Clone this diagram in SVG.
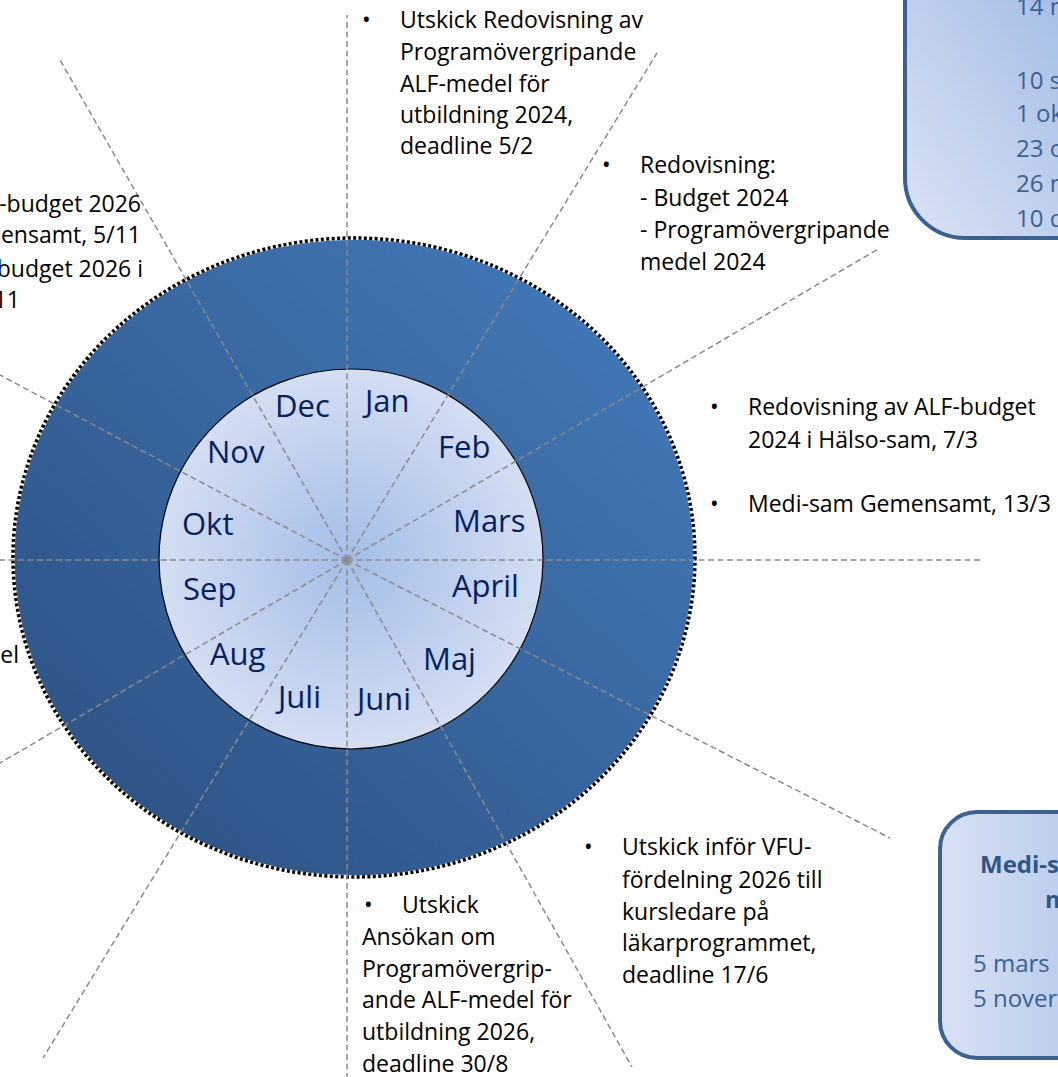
<svg xmlns="http://www.w3.org/2000/svg" width="1058" height="1077" viewBox="0 0 1058 1077">
  <defs>
    <linearGradient id="ringGrad" x1="1" y1="0" x2="0" y2="1">
      <stop offset="0" stop-color="#467cbd"/>
      <stop offset="1" stop-color="#2a4f7f"/>
    </linearGradient>
    <radialGradient id="innerGrad" cx="0.5" cy="0.5" r="0.5">
      <stop offset="0" stop-color="#a5bde8"/>
      <stop offset="1" stop-color="#d3def2"/>
    </radialGradient>
    <linearGradient id="boxGrad1" x1="0" y1="1" x2="1" y2="0">
      <stop offset="0" stop-color="#dae3f3"/>
      <stop offset="0.7" stop-color="#a9bfe7"/>
      <stop offset="1" stop-color="#a3bbe6"/>
    </linearGradient>
    <linearGradient id="boxGrad2" x1="0" y1="0.5" x2="1" y2="0.5">
      <stop offset="0" stop-color="#d8e2f3"/>
      <stop offset="1" stop-color="#afc3e9"/>
    </linearGradient>
    <style>
      .t { font-family: "Open Sans", "Liberation Sans", sans-serif; font-size: 23px; fill: #000000; }
      .m { font-family: "Open Sans", "Liberation Sans", sans-serif; font-size: 31px; fill: #062060; }
      .bx { font-family: "Open Sans", "Liberation Sans", sans-serif; font-size: 24px; fill: #3a6192; }
      .bxb { font-family: "Open Sans", "Liberation Sans", sans-serif; font-size: 24px; font-weight: bold; fill: #2f5686; }
      .spoke { stroke: #8a8a8a; stroke-width: 1.5; stroke-dasharray: 6 3.5; fill: none; }
      .box { stroke: #3b6191; stroke-width: 4; }
    </style>
  </defs>

  <rect width="1058" height="1077" fill="#ffffff"/>

  <g id="wheel">
    <ellipse cx="354" cy="557.5" rx="341" ry="319.5" fill="url(#ringGrad)" stroke="#ffffff" stroke-width="3.5"/>
    <ellipse cx="354" cy="557.5" rx="341" ry="319.5" fill="none" stroke="#000000" stroke-width="3.5" stroke-dasharray="3 2.4"/>
    <ellipse cx="351" cy="559" rx="192" ry="190" fill="url(#innerGrad)" stroke="#000000" stroke-width="1.2"/>
  </g>

  <g id="connectors">
    <line class="spoke" x1="347" y1="560" x2="347" y2="15"/>
    <line class="spoke" x1="347" y1="560" x2="347" y2="1077"/>
    <line class="spoke" x1="347" y1="560" x2="657" y2="53"/>
    <line class="spoke" x1="347" y1="560" x2="43" y2="1058"/>
    <line class="spoke" x1="347" y1="560" x2="880" y2="248"/>
    <line class="spoke" x1="347" y1="560" x2="0" y2="763"/>
    <line class="spoke" x1="347" y1="560" x2="982" y2="560"/>
    <line class="spoke" x1="347" y1="560" x2="0" y2="560"/>
    <line class="spoke" x1="347" y1="560" x2="0" y2="375"/>
    <line class="spoke" x1="347" y1="560" x2="890" y2="838"/>
    <line class="spoke" x1="347" y1="560" x2="60" y2="60"/>
    <line class="spoke" x1="347" y1="560" x2="632" y2="1067"/>
  </g>

  <g id="months">
    <text class="m" x="365" y="412">Jan</text>
    <text class="m" x="438" y="458">Feb</text>
    <text class="m" x="453" y="532">Mars</text>
    <text class="m" x="452" y="597">April</text>
    <text class="m" x="423" y="670">Maj</text>
    <text class="m" x="357" y="710">Juni</text>
    <text class="m" x="278" y="708">Juli</text>
    <text class="m" x="210" y="665">Aug</text>
    <text class="m" x="183" y="600">Sep</text>
    <text class="m" x="182" y="535">Okt</text>
    <text class="m" x="207" y="463">Nov</text>
    <text class="m" x="275" y="417">Dec</text>
  </g>

  <g id="note-jan">
    <text class="t" x="362" y="28">•</text>
    <text class="t" x="400" y="28">Utskick Redovisning av</text>
    <text class="t" x="400" y="60">Programövergripande</text>
    <text class="t" x="400" y="92">ALF-medel för</text>
    <text class="t" x="400" y="123">utbildning 2024,</text>
    <text class="t" x="400" y="154">deadline 5/2</text>
  </g>

  <g id="note-feb">
    <text class="t" x="602" y="173">•</text>
    <text class="t" x="640" y="173">Redovisning:</text>
    <text class="t" x="640" y="206">- Budget 2024</text>
    <text class="t" x="640" y="238">- Programövergripande</text>
    <text class="t" x="640" y="270">medel 2024</text>
  </g>

  <g id="note-mars">
    <text class="t" x="710" y="415">•</text>
    <text class="t" x="748" y="415">Redovisning av ALF-budget</text>
    <text class="t" x="748" y="448">2024 i Hälso-sam, 7/3</text>
    <text class="t" x="710" y="512">•</text>
    <text class="t" x="748" y="512">Medi-sam Gemensamt, 13/3</text>
  </g>

  <g id="note-juni">
    <text class="t" x="584" y="855">•</text>
    <text class="t" x="622" y="855">Utskick inför VFU-</text>
    <text class="t" x="622" y="888">fördelning 2026 till</text>
    <text class="t" x="622" y="920">kursledare på</text>
    <text class="t" x="622" y="951">läkarprogrammet,</text>
    <text class="t" x="622" y="983">deadline 17/6</text>
  </g>

  <g id="note-aug">
    <text class="t" x="364" y="913">•</text>
    <text class="t" x="402" y="913">Utskick</text>
    <text class="t" x="362" y="945">Ansökan om</text>
    <text class="t" x="362" y="977">Programövergrip-</text>
    <text class="t" x="362" y="1008">ande ALF-medel för</text>
    <text class="t" x="362" y="1040">utbildning 2026,</text>
    <text class="t" x="362" y="1072">deadline 30/8</text>
  </g>

  <g id="note-nov">
    <text class="t" x="141" y="212" text-anchor="end">-budget 2026</text>
    <text class="t" x="141" y="243" text-anchor="end">ensamt, 5/11</text>
    <text class="t" x="143" y="277" text-anchor="end">budget 2026 i</text>
    <text class="t" x="20" y="308" text-anchor="end">11</text>
  </g>

  <g id="note-sep">
    <text class="t" x="19" y="663" text-anchor="end">el</text>
  </g>

  <g id="box-dates">
    <rect class="box" x="905" y="-80" width="220" height="318" rx="60" fill="url(#boxGrad1)"/>
    <text class="bx" x="1016" y="15">14 m</text>
    <text class="bx" x="1016" y="89">10 s</text>
    <text class="bx" x="1016" y="122">1 ok</text>
    <text class="bx" x="1016" y="157">23 o</text>
    <text class="bx" x="1016" y="192">26 n</text>
    <text class="bx" x="1016" y="227">10 d</text>
  </g>

  <g id="box-medisam">
    <rect class="box" x="940" y="812" width="180" height="246" rx="37" fill="url(#boxGrad2)"/>
    <text class="bxb" x="980" y="873">Medi-s</text>
    <text class="bxb" x="1045" y="908">m</text>
    <text class="bx" x="973" y="972">5 mars</text>
    <text class="bx" x="973" y="1007">5 nover</text>
  </g>
</svg>
